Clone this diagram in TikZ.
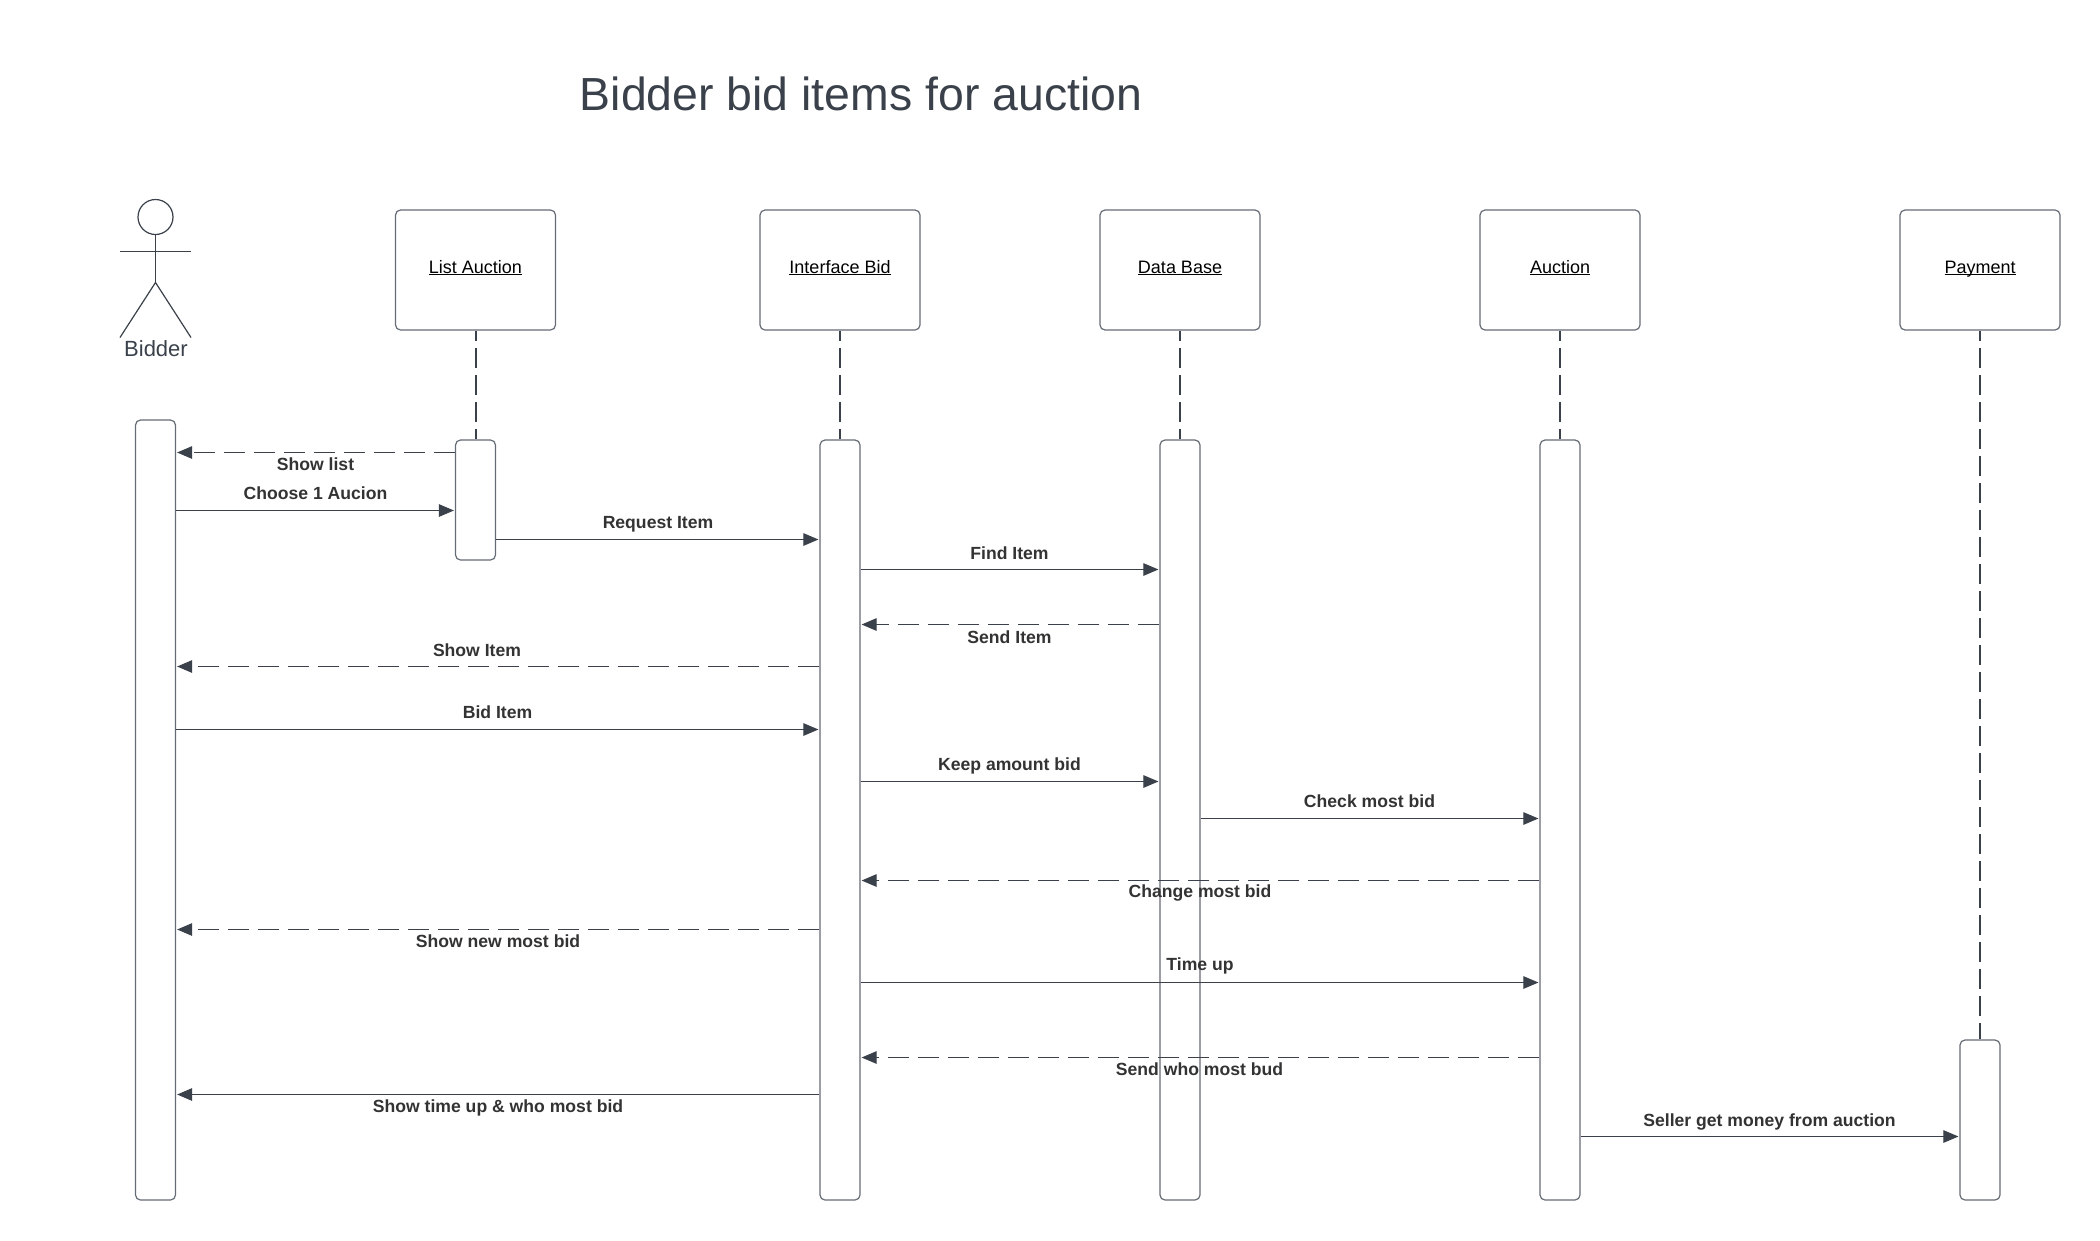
\documentclass[tikz,border=0pt]{standalone}
\usepackage{fontspec}
\setmainfont{Liberation Sans}
\usetikzlibrary{arrows.meta}
\definecolor{ink}{HTML}{3A414A}
\definecolor{edge}{HTML}{666C75}
\definecolor{lab}{HTML}{333333}
\tikzset{
  x=1pt,y=-1pt,
  obj/.style={draw=edge,line width=1.2pt,fill=white,rounded corners=5pt,minimum width=160pt,minimum height=120pt,inner sep=0pt,text=black,font=\fontsize{18}{21}\selectfont},
  bar/.style={draw=edge,line width=1.2pt,fill=white,rounded corners=5pt,minimum width=40pt,inner sep=0pt},
  life/.style={draw=ink,line width=2pt,dash pattern=on 20pt off 7pt,dash phase=10pt},
  msg/.style={draw=ink,line width=1.1pt,-{Triangle[length=15pt,width=12.5pt,fill=ink]},shorten >=1pt},
  ret/.style={msg,dash pattern=on 21pt off 9pt},
  lbl/.style={text=lab,inner sep=0pt,font=\fontsize{17.6}{20}\selectfont\bfseries},
  objtext/.style={inner sep=0pt,text=black,anchor=base,font=\fontsize{18}{21}\selectfont},
  stick/.style={draw=ink,line width=1.2pt}
}
\newcommand{\barnode}[4]{\node[bar,minimum height=#4pt-#3pt] (#1) at (#2,{(#3+#4)/2}) {};}
\newcommand{\ul}[1]{\underline{\smash{#1}}}
\begin{document}
\begin{tikzpicture}
\useasboundingbox (0,0) rectangle (2100,1240);
\node[text=ink,inner sep=0pt,font=\fontsize{46.4}{52}\selectfont] (title) at (861,94) {Bidder bid items for auction};

% actor
\node[circle,stick,minimum size=35pt,inner sep=0pt] (head) at (155.5,217) {};
\coordinate (hip) at (155.5,282.5);
\coordinate (armL) at (120,251.5);
\coordinate (armR) at (191,251.5);
\coordinate (legL) at (120,337.5);
\coordinate (legR) at (191,337.5);
\draw[stick] (head.south) -- (hip);
\draw[stick] (armL) -- (armR);
\draw[stick] (legL) -- (hip) -- (legR);
\node[text=ink,inner sep=0pt,font=\fontsize{22}{25}\selectfont] (bidder) at (156,348.5) {Bidder};

% objects
\node[obj] (oList) at (475.5,270) {};
\node[obj] (oInt) at (840,270) {};
\node[obj] (oData) at (1180,270) {};
\node[obj] (oAuc) at (1560,270) {};
\node[obj] (oPay) at (1980,270) {};
\node[objtext] (tList) at (475.5,273) {\ul{List Auction}};
\node[objtext] (tInt) at (840,273) {\ul{Interface Bid}};
\node[objtext] (tData) at (1180,273) {\ul{Data Base}};
\node[objtext] (tAuc) at (1560,273) {\ul{Auction}};
\node[objtext] (tPay) at (1980,273) {\ul{Payment}};

% activation bars
\barnode{bBid}{155.5}{420}{1200}
\barnode{bList}{475.5}{440}{560}
\barnode{bInt}{840}{440}{1200}
\barnode{bData}{1180}{440}{1200}
\barnode{bAuc}{1560}{440}{1200}
\barnode{bPay}{1980}{1040}{1200}

% lifelines
\foreach \o/\b in {oList/bList,oInt/bInt,oData/bData,oAuc/bAuc,oPay/bPay}
  \draw[life] (\o.south) -- (\b.north);

% messages
\draw[ret] (bList.west |- 0,452.5) -- (bBid.east |- 0,452.5);
\draw[msg] (bBid.east |- 0,510.5) -- (bList.west |- 0,510.5);
\draw[msg] (bList.east |- 0,539.5) -- (bInt.west |- 0,539.5);
\draw[msg] (bInt.east |- 0,569.5) -- (bData.west |- 0,569.5);
\draw[ret] (bData.west |- 0,624.5) -- (bInt.east |- 0,624.5);
\draw[ret] (bInt.west |- 0,666.5) -- (bBid.east |- 0,666.5);
\draw[msg] (bBid.east |- 0,729.5) -- (bInt.west |- 0,729.5);
\draw[msg] (bInt.east |- 0,781.5) -- (bData.west |- 0,781.5);
\draw[msg] (bData.east |- 0,818.5) -- (bAuc.west |- 0,818.5);
\draw[ret] (bAuc.west |- 0,880.5) -- (bInt.east |- 0,880.5);
\draw[ret] (bInt.west |- 0,929.5) -- (bBid.east |- 0,929.5);
\draw[msg] (bInt.east |- 0,982.5) -- (bAuc.west |- 0,982.5);
\draw[ret] (bAuc.west |- 0,1057.5) -- (bInt.east |- 0,1057.5);
\draw[msg] (bInt.west |- 0,1094.5) -- (bBid.east |- 0,1094.5);
\draw[msg] (bAuc.east |- 0,1136.5) -- (bPay.west |- 0,1136.5);

% labels
\node[lbl] (l1) at (315.5,464) {Show list};
\node[lbl] (l2) at (315.5,493.5) {Choose 1 Aucion};
\node[lbl] (l3) at (658,524.5) {Request Item};
\node[lbl] (l4) at (1009.5,553) {Find Item};
\node[lbl] (l5) at (1009.5,637) {Send Item};
\node[lbl] (l6) at (477,650.5) {Show Item};
\node[lbl] (l7) at (497.5,712.5) {Bid Item};
\node[lbl] (l8) at (1009.5,765.5) {Keep amount bid};
\node[lbl] (l9) at (1369.5,801.5) {Check most bid};
\node[lbl] (l10) at (1200,893) {Change most bid};
\node[lbl] (l11) at (498,941.5) {Show new most bid};
\node[lbl] (l12) at (1200,966) {Time up};
\node[lbl] (l13) at (1199.5,1069.5) {Send who most bud};
\node[lbl] (l14) at (498,1107.5) {Show time up \& who most bid};
\node[lbl] (l15) at (1769.5,1121.5) {Seller get money from auction};
\end{tikzpicture}
\end{document}
